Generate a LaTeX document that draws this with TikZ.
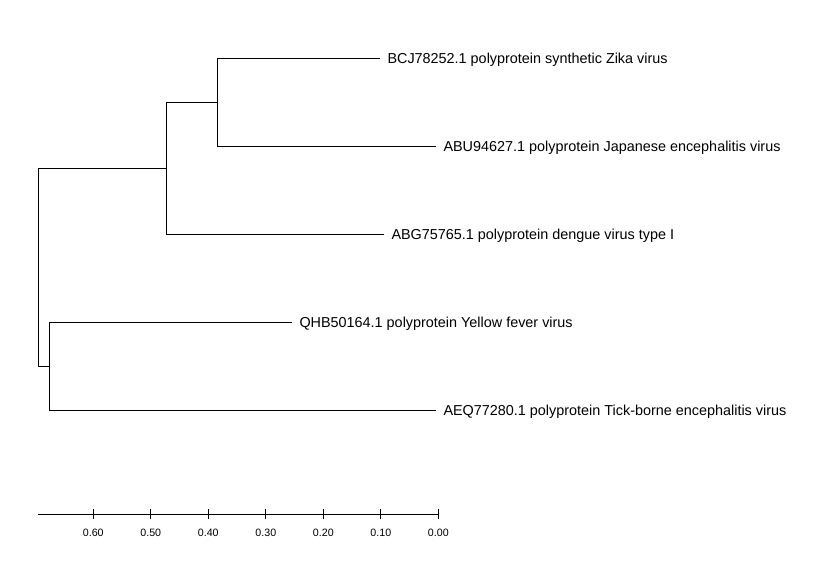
\documentclass[tikz,border=0pt]{standalone}
\usepackage{fontspec}
\setmainfont{Liberation Sans}
\usetikzlibrary{positioning}

\begin{document}
\begin{tikzpicture}[x=0.75pt, y=-0.75pt,
    line width=0.75pt,
    leaf/.style={%
      anchor=west, inner xsep=5.25pt, inner ysep=0pt,
      text height=7.73pt, text depth=0pt, font=\fontsize{10.8}{13}\selectfont
    },
    sc/.style={%
      inner sep=0pt, text height=5.7pt, text depth=0pt,
      font=\fontsize{8}{9}\selectfont
    }
]
    \useasboundingbox (0,0) rectangle (834,565);

    % inner nodes of the tree
    \coordinate (root) at (38.3,267.2);
    \coordinate (n1)   at (166.3,168);
    \coordinate (n2)   at (217.3,102);
    \coordinate (n3)   at (49.3,366.3);

    % leaves
    \node[leaf] (zika) at (380,58.3)  {BCJ78252.1 polyprotein synthetic Zika virus};
    \node[leaf] (je)   at (436,146.3) {ABU94627.1 polyprotein Japanese encephalitis virus};
    \node[leaf] (den)  at (384,234)   {ABG75765.1 polyprotein dengue virus type I};
    \node[leaf] (yf)   at (292,322.3) {QHB50164.1 polyprotein Yellow fever virus};
    \node[leaf] (tbe)  at (436,410)   {AEQ77280.1 polyprotein Tick-borne encephalitis virus};

    \draw (root) |- (n1);
    \draw (root) |- (n3);
    \draw (n1) |- (n2);
    \draw (n1) |- (den.west);
    \draw (n2) |- (zika.west);
    \draw (n2) |- (je.west);
    \draw (n3) |- (yf.west);
    \draw (n3) |- (tbe.west);

    % scale bar
    \coordinate (s0) at (38.3,514);
    \coordinate (s1) at (438.3,514);
    \draw (s0) -- (s1);

    \node[sc] (l60) at (93.3,532.5)  {0.60};
    \node[sc] (l50) at (150.8,532.5) {0.50};
    \node[sc] (l40) at (208.3,532.5) {0.40};
    \node[sc] (l30) at (265.8,532.5) {0.30};
    \node[sc] (l20) at (323.3,532.5) {0.20};
    \node[sc] (l10) at (380.8,532.5) {0.10};
    \node[sc] (l00) at (438.3,532.5) {0.00};

    \draw (l60 |- s0) ++(0,-4.7) -- ++(0,9.4);
    \draw (l50 |- s0) ++(0,-4.7) -- ++(0,9.4);
    \draw (l40 |- s0) ++(0,-4.7) -- ++(0,9.4);
    \draw (l30 |- s0) ++(0,-4.7) -- ++(0,9.4);
    \draw (l20 |- s0) ++(0,-4.7) -- ++(0,9.4);
    \draw (l10 |- s0) ++(0,-4.7) -- ++(0,9.4);
    \draw (l00 |- s0) ++(0,-4.7) -- ++(0,9.4);

\end{tikzpicture}
\end{document}
